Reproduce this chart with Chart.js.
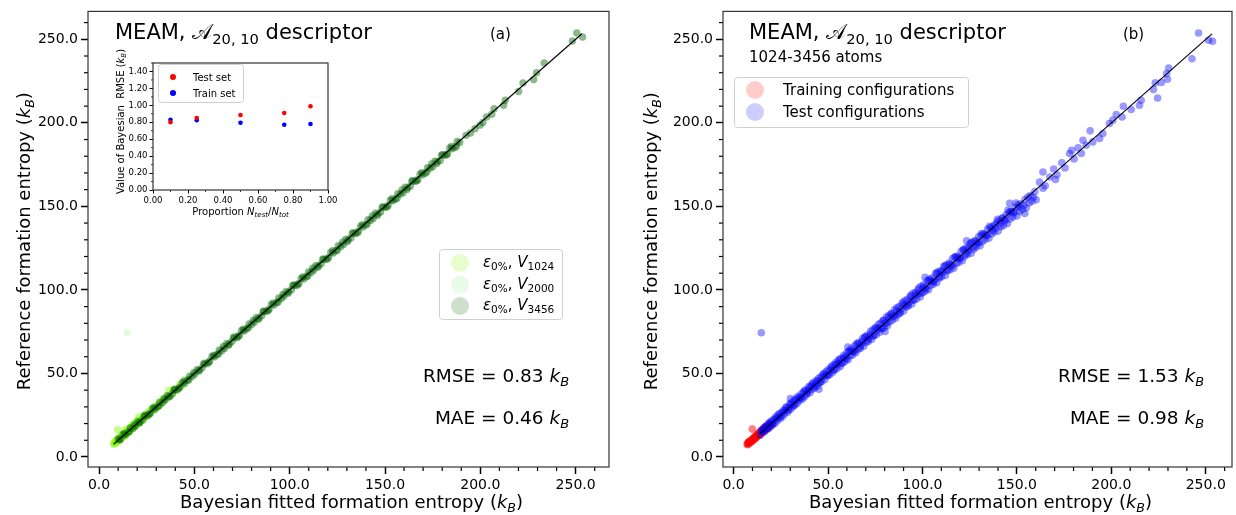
<!DOCTYPE html>
<html>
<head>
<meta charset="utf-8">
<script src="https://cdn.jsdelivr.net/npm/chart.js@4.4.1/dist/chart.umd.min.js"></script>
<style>
  body { margin: 0; background: #fff; }
  canvas { position: absolute; }
</style>
</head>
<body>
<canvas id="panelA" width="618" height="515" style="left:0;top:0"></canvas>
<canvas id="panelB" width="618" height="515" style="left:618px;top:0"></canvas>
<canvas id="inset" width="240" height="180" style="left:100px;top:45px"></canvas>
<script>
// (a) predicted vs reference entropy, split by supercell size
const v1024 = [[7.6,8.0],[8.2,8.9],[8.9,8.3],[9.4,10.4],[9.7,16.4],[10.3,9.8],[10.9,11.9],[11.5,11.2],[12.2,13.4],[12.8,12.1],
  [13.4,14.6],[13.8,16.0],[14.1,13.6],[14.7,15.9],[15.3,14.9],[16.0,17.2],[16.6,16.1],[17.3,18.6],[17.9,17.4],[18.6,19.8],
  [19.2,18.7],[19.9,21.0],[20.8,23.9],[21.2,20.6],[21.9,23.1],[22.6,21.9],[23.3,24.4],[24.0,23.4],[24.8,26.1],[25.5,24.8],
  [26.3,27.4],[27.1,26.5],[27.9,29.2],[28.8,28.0],[29.6,30.9],[30.5,29.8],[31.5,32.7],[32.4,31.7],[33.5,34.8],[34.6,33.9],
  [35.8,37.0],[36.7,39.9],[37.9,37.2],[39.2,40.5],[40.6,39.8],[42.1,43.3],[43.7,42.9],[45.3,46.4],
  [7.9,7.6],[8.6,9.6],[9.2,8.8],[10.0,11.0],[10.6,10.3],[11.2,12.4],[11.9,11.6],[12.5,13.9],[13.1,12.7],[14.4,14.1],
  [15.0,16.4],[15.7,15.4],[16.3,17.7],[17.0,16.7],[17.6,19.1],[18.3,17.9],[18.9,20.3],[19.6,19.2],[20.5,21.8],[21.6,21.2]];
const v2000 = [[12.5,13.2],[14.7,74.4],[15.8,15.1],[18.4,19.3],[21.0,20.3],[23.7,24.6],[26.2,25.5],[28.9,29.8],[31.4,30.8],[34.1,35.0],
  [36.6,36.0],[39.3,40.1],[41.8,41.1],[44.5,45.4],[47.0,46.3],[49.7,50.5],[52.2,51.6],[54.9,55.8],[57.4,56.7],[60.1,60.9],
  [62.6,62.0],[65.3,66.1],[67.8,67.1],[70.5,71.3],[73.0,72.4],[75.7,76.5],[78.2,77.5],[80.9,81.8],[83.4,82.7],[86.1,86.9],
  [88.6,88.0],[91.3,92.1],[93.8,93.1],[96.5,97.3],[99.0,98.4],[101.7,102.5],[104.2,103.5],[106.9,107.7],[109.4,108.8],[112.1,112.9]];
const v3456 = [[10.1,10.8],[11.3,10.6],[12.6,13.5],[13.8,13.1],[15.2,14.6],[16.4,17.3],[17.7,17.0],[19.0,18.4],[20.2,21.1],[21.5,20.8],
  [22.9,22.2],[24.1,25.0],[25.4,24.7],[26.8,26.1],[28.0,28.9],[29.3,28.6],[30.7,30.0],[31.9,32.8],[33.2,32.4],[34.6,34.1],
  [35.8,36.7],[37.1,36.3],[38.5,37.9],[39.7,40.6],[41.0,40.2],[42.4,41.8],[43.6,44.5],[44.9,44.0],[46.3,45.7],[47.5,48.4],
  [48.8,48.1],[50.2,49.5],[51.4,52.3],[52.7,51.9],[54.1,53.4],[55.3,56.2],[56.6,55.8],[58.0,57.3],[59.2,60.1],[60.5,59.9],
  [61.9,61.2],[63.1,64.0],[64.4,63.6],[65.8,65.0],[67.0,67.9],[68.3,67.5],[69.7,69.1],[70.9,71.8],[72.2,71.3],[73.6,72.9],
  [74.8,75.7],[76.1,75.4],[77.5,76.7],[78.7,79.6],[80.0,79.2],[81.4,80.6],[82.6,83.5],[83.9,83.1],[85.3,84.5],[86.5,87.4],
  [87.8,87.0],[89.2,88.4],[90.4,91.3],[91.7,90.9],[93.1,92.3],[94.3,95.2],[95.6,94.8],[97.0,96.2],[98.2,99.1],[99.5,98.7],
  [100.9,100.1],[102.1,103.0],[103.4,102.6],[104.8,103.9],[106.0,106.9],[107.3,106.5],[108.7,107.8],[109.9,110.8],[111.2,110.4],[112.6,111.7],
  [113.8,114.7],[115.1,114.3],[116.5,115.6],[117.7,118.6],[119.0,118.2],[120.4,119.5],[121.6,122.5],[122.9,122.1],[124.3,123.4],[125.5,126.4],
  [126.8,126.0],[128.2,127.2],[129.4,130.3],[130.7,129.9],[132.1,131.1],[133.3,134.2],[134.6,133.8],[136.0,135.0],[137.2,138.1],[138.5,137.7],
  [139.9,138.9],[141.1,142.0],[142.4,141.6],[143.8,142.8],[145.0,145.9],[146.3,145.5],[147.7,146.6],[148.9,149.8],[150.2,149.4],[151.6,150.5],
  [152.8,153.7],[154.1,153.3],[155.5,154.3],[156.7,157.6],[158.0,157.2],[159.4,158.2],[160.6,161.5],[161.9,161.1],[163.3,162.1],[164.5,165.4],
  [165.8,165.0],[167.2,165.9],[168.4,169.3],[169.7,168.9],[171.1,169.8],[172.3,173.2],[173.6,172.8],[175.0,173.7],[176.2,177.1],[177.5,176.7],
  [178.9,177.5],[180.1,181.0],[181.4,180.6],[182.8,181.4],[184.0,184.9],[185.3,184.5],[186.7,185.3],[187.9,188.8],[189.2,188.3],
  [10.7,10.2],[13.3,13.9],[15.9,15.3],[18.5,19.2],[21.1,20.4],[23.7,24.4],[26.3,25.6],[28.9,29.7],[31.5,30.7],[34.1,34.9],
  [36.7,35.9],[39.3,40.0],[41.9,41.1],[44.5,45.3],[47.1,46.2],[49.7,50.5],[52.3,51.5],[54.9,55.6],[57.5,56.6],[60.1,60.8],
  [62.7,61.8],[65.3,66.1],[67.9,66.9],[70.5,71.3],[73.1,72.1],[75.7,76.5],[78.3,77.3],[80.9,81.7],[83.5,82.4],[86.1,86.9],
  [88.7,87.6],[91.3,92.1],[93.9,92.8],[96.5,97.3],[99.1,98.0],[101.7,102.6],[104.3,103.1],[106.9,107.8],[109.5,108.3],[112.1,113.0],
  [114.7,113.5],[117.3,118.2],[119.9,118.7],[122.5,123.4],[125.1,123.9],[127.7,128.6],[130.3,129.0],[132.9,133.8],[135.5,134.2],[138.1,139.0],
  [140.7,139.4],[143.3,144.2],[145.9,144.6],[148.5,149.4],[151.1,149.7],[153.7,154.6],[156.3,154.9],[158.9,159.8],[161.5,160.1],[164.1,165.0],
  [166.7,165.3],[169.3,170.2],[171.9,170.5],[174.5,175.4],[177.1,175.7],[179.7,180.6],[182.3,180.9],[184.9,185.8],[187.5,186.1],
  [192.5,192.5],[194.8,193.9],[197.2,196.5],[199.8,198.6],[201.3,200.2],[203.3,203.5],[206.0,205.1],[207.2,208.5],[212.2,210.5],[213.1,213.5],
  [220.1,218.8],[222.4,223.9],[228.0,225.9],[229.5,230.0],[233.5,235.8],[248.3,249.0],[250.6,253.8],[253.6,251.4]];
const diagA = [7.6, 253.3];

// (b) training / test split over all sizes
const trainCfg = [[7.2,7.8],[7.6,8.6],[8.0,7.9],[8.3,9.2],[8.7,8.5],[9.0,9.8],[9.4,9.1],[9.7,10.5],[9.9,16.7],[10.1,9.7],
  [10.4,11.2],[10.8,10.4],[11.1,12.0],[11.5,11.0],[11.8,12.7],[12.2,11.8],[12.5,13.4],[12.9,12.5],[13.2,14.1],[13.6,13.0],
  [13.9,14.9],[14.3,13.8],[14.6,15.6],[15.0,14.5],[15.3,16.3],[15.7,15.1],[16.0,17.0],[16.4,15.9],[16.7,17.6],[17.1,16.6],
  [17.4,18.2],[17.8,17.3],[18.2,18.9],[18.6,18.1],[19.0,19.5],[19.5,18.6],[20.2,19.4],
  [7.4,7.3],[7.9,8.4],[8.5,9.0],[9.1,9.4],[9.6,9.8],[10.2,10.6],[10.7,11.0],[11.3,11.6],[11.9,12.2],[12.4,12.9],
  [13.0,13.3],[13.5,14.2],[14.1,14.4],[14.7,15.1],[15.2,15.8],[15.8,16.2],[16.3,16.7],[16.9,17.2],[17.5,17.8],[18.1,18.4],[18.8,19.0]];
const testCfg = [[14.2,13.1],[14.7,74.4],[14.8,16.0],[15.3,14.6],[15.9,17.2],[16.4,15.1],[16.9,18.3],[17.5,16.4],[18.0,19.5],[18.6,17.1],[19.1,20.4],
  [19.7,18.2],[20.2,21.6],[20.8,19.4],[21.3,22.5],[21.9,20.1],[22.4,24.0],[23.0,21.6],[23.5,23.3],[24.1,25.8],[24.6,22.9],
  [25.2,26.4],[25.8,24.1],[26.3,28.0],[26.9,25.6],[27.4,27.9],[28.0,30.1],[28.6,26.7],[29.1,29.4],[29.7,31.8],[30.1,34.9],
  [30.2,28.5],[30.8,32.6],[31.4,30.0],[31.9,33.9],[32.5,31.2],[33.0,34.1],[33.6,32.0],[34.2,36.3],[34.7,33.5],[35.3,35.9],
  [35.9,37.8],[36.4,34.6],[37.0,38.9],[37.6,36.1],[38.1,40.2],[38.7,37.4],[39.3,39.8],[39.8,42.1],[40.4,38.5],[41.0,42.7],
  [41.5,40.3],[42.1,44.6],[42.7,41.2],[43.2,43.9],[43.8,45.8],[44.4,42.6],[45.0,47.1],[45.2,40.6],[45.5,44.4],[46.1,48.0],
  [46.7,45.2],[47.2,47.9],[47.8,50.1],[48.4,46.3],[49.0,51.2],[49.5,48.6],[50.1,52.4],[50.7,49.0],[51.3,51.8],[51.9,54.2],
  [52.4,50.5],[53.0,55.3],[53.6,52.1],[54.2,56.6],[54.8,53.0],[55.3,55.7],[55.9,58.4],[56.5,54.2],[57.1,59.1],[57.7,56.3],
  [58.3,60.8],[58.8,57.0],[59.4,59.9],[60.0,62.5],[60.5,65.8],[60.6,58.2],[61.2,63.4],[61.8,60.6],[62.4,64.9],[63.0,61.1],
  [63.5,63.8],[64.1,66.5],[64.7,62.4],[65.3,67.9],[65.9,64.5],[66.5,68.6],[67.1,65.0],[67.7,67.6],[68.3,70.9],[68.9,66.3],
  [69.5,71.8],[70.1,68.5],[70.7,72.9],[71.3,69.1],[71.9,71.6],[72.5,75.2],[73.1,70.4],[73.7,76.1],[74.3,72.6],[74.9,77.0],
  [75.5,73.2],[76.1,75.9],[76.7,79.4],[77.3,74.6],[77.9,80.2],[78.5,76.9],[79.1,81.6],[79.7,77.3],[80.2,75.1],[80.3,80.1],
  [80.9,83.8],[81.5,78.5],[82.1,84.6],[82.7,81.0],[83.3,85.7],[84.0,81.9],[84.6,84.5],[85.2,88.1],[85.8,83.0],[86.4,89.3],
  [87.0,85.2],[87.6,90.0],[88.2,86.1],[88.9,88.9],[89.5,92.6],[90.1,87.4],[90.7,93.5],[91.3,89.7],[91.9,94.4],[92.6,90.3],
  [93.2,93.1],[93.8,96.8],[94.4,91.6],[95.0,97.9],[95.6,93.9],[96.3,98.6],[96.9,94.5],[97.5,97.4],[98.1,101.2],[98.8,95.8],
  [99.4,102.1],[100.0,98.3],[100.6,103.0],[101.3,99.0],[101.4,107.5],[101.9,101.8],[102.5,105.5],[103.2,100.1],[103.8,106.4],[104.4,102.6],
  [105.1,107.3],[105.7,103.4],[106.3,106.1],[107.0,109.9],[107.6,104.3],[108.2,110.8],[108.9,107.0],[109.5,111.5],[110.1,107.8],[110.8,110.4],
  [111.4,114.3],[112.1,108.6],[112.7,115.1],[113.4,111.4],[114.0,116.0],[114.6,112.1],[115.3,114.9],[115.9,118.7],[116.6,113.0],[117.2,119.6],
  [117.9,115.8],[118.5,120.2],[119.2,116.4],[119.8,119.3],[120.5,123.1],[121.1,117.5],[121.8,124.0],[122.4,120.1],[123.1,125.3],[123.4,129.4],
  [123.8,121.2],[124.4,123.6],[125.1,127.5],[125.8,122.0],[126.4,128.6],[127.1,124.4],[127.8,129.5],[128.4,125.6],[129.1,128.0],[129.8,131.9],
  [130.5,126.4],[131.1,132.7],[131.8,129.0],[132.5,133.8],[133.2,130.1],[133.9,132.5],[134.5,136.3],[135.2,130.9],[135.9,137.2],[136.6,133.5],
  [137.3,138.0],[138.0,134.6],[138.7,136.9],[139.4,140.6],[140.1,135.2],[140.8,141.5],[141.5,137.8],[142.2,142.8],[142.9,138.5],[143.6,141.2],
  [144.3,145.0],[145.0,139.7],[145.7,146.3],[146.2,151.9],[146.4,142.4],[147.1,147.1],[147.8,143.6],[148.5,146.0],[149.2,149.5],[150.0,144.3],
  [150.7,150.9],[151.4,147.0],[152.1,151.6],[152.9,148.2],[153.6,150.5],[154.2,145.7],[154.3,154.1],[155.0,149.1],[155.8,155.6],[156.5,152.0],
  [157.2,156.5],[158.0,153.1],[158.7,155.4],[159.5,158.8],[160.2,153.9],[162.0,164.5],[163.8,160.9],[163.8,170.6],[165.0,162.3],[167.4,167.6],
  [169.5,172.4],[170.4,166.1],[171.2,168.9],[173.8,176.1],[175.5,173.0],[177.9,181.6],[179.0,183.5],[180.3,178.4],[182.4,185.1],[184.1,181.7],
  [185.0,189.6],[186.7,186.6],[188.8,195.2],[190.2,188.6],[193.8,190.6],[195.5,193.6],[199.0,199.6],[200.8,201.6],[202.6,205.0],[205.7,203.5],
  [206.4,209.9],[210.5,208.0],[214.9,210.5],[215.8,213.5],[222.3,219.9],[223.3,223.9],[224.5,214.9],[226.5,224.1],[229.3,229.5],[229.7,226.1],
  [230.4,232.8],[242.7,238.4],[246.2,253.8],[251.5,249.4],[253.6,248.8],
  [15.1,15.9],[16.5,17.8],[17.9,17.0],[19.3,20.9],[20.7,20.0],[22.1,22.9],[23.5,25.1],[24.9,24.2],[26.3,26.9],[27.7,29.4],
  [29.1,28.0],[30.5,31.3],[31.9,30.8],[33.3,35.2],[34.7,34.9],[36.1,35.4],[37.5,39.4],[38.9,38.1],[40.3,41.4],[41.7,43.6],
  [43.1,42.0],[44.5,45.6],[45.9,44.7],[47.3,49.4],[48.7,48.9],[50.1,49.2],[51.5,53.6],[52.9,52.0],[54.3,55.4],[55.7,57.8],
  [57.1,56.0],[58.5,59.5],[59.9,58.6],[61.3,63.5],[62.7,63.0],[64.1,63.1],[65.5,67.7],[66.9,66.0],[68.3,69.3],[69.7,71.9],
  [71.1,70.1],[72.5,73.4],[73.9,72.6],[75.3,77.6],[76.7,77.1],[78.1,77.0],[79.5,81.8],[80.9,80.0],[82.3,83.2],[83.7,85.9],
  [85.1,84.2],[86.5,87.3],[87.9,86.5],[89.3,91.6],[90.7,91.0],[92.1,91.0],[93.5,95.9],[94.9,93.9],[96.3,97.1],[97.7,100.0],
  [99.1,98.0],[100.5,101.3],[101.9,100.4],[103.3,105.7],[104.7,105.0],[106.1,104.9],[107.5,109.9],[108.9,107.8],[110.3,111.1],[111.7,114.1],
  [113.1,112.0],[114.5,115.2],[115.9,114.3],[117.3,119.8],[118.7,119.0],[120.1,118.8],[121.5,124.0],[122.9,121.7],[124.3,125.0],[125.7,128.2],
  [127.1,125.9],[128.5,129.2],[129.9,128.2],[131.3,133.8],[132.7,133.0],[134.1,132.7],[135.5,138.0],[136.9,135.6],[138.3,139.0],[139.7,142.2],
  [141.1,139.7],[142.5,143.2],[143.9,142.1],[145.3,147.8],[146.7,146.9],[148.1,146.5],[149.5,152.0],[150.9,149.4]];
const diagB = [13.8, 253.3];

const rmse = ['0.83', '1.53'];
const mae = ['0.46', '0.98'];

// inset: RMSE against test fraction
const proportions = [0.1, 0.25, 0.5, 0.75, 0.9];
const rmseTest = [0.80, 0.85, 0.885, 0.91, 0.99];
const rmseTrain = [0.83, 0.825, 0.795, 0.77, 0.78];

const FONT = '"DejaVu Sans", sans-serif';
Chart.defaults.font.family = FONT;
Chart.defaults.color = '#000';

const toPts = arr => arr.map(([x, y]) => ({ x, y }));
const diag = arr => arr.map(v => ({ x: v, y: v }));

function fontOf(style, size) {
  const s = style.includes('s') ? size * 0.7 : size;
  return (style.includes('i') ? 'italic ' : '') + s + 'px ' + FONT;
}

// text made of runs: [text, style] with style 'i' italic, 's' subscript
function drawRich(ctx, parts, x, y, size, align) {
  let w = 0;
  parts.forEach(([t, st = '']) => { ctx.font = fontOf(st, size); w += ctx.measureText(t).width; });
  let cx = align === 'center' ? x - w / 2 : align === 'right' ? x - w : x;
  ctx.textAlign = 'left';
  ctx.textBaseline = 'alphabetic';
  parts.forEach(([t, st = '']) => {
    ctx.font = fontOf(st, size);
    ctx.fillText(t, cx, y + (st.includes('s') ? size * 0.22 : 0));
    cx += ctx.measureText(t).width;
  });
}

function drawRotated(ctx, parts, x, y, size) {
  ctx.save();
  ctx.translate(x, y);
  ctx.rotate(-Math.PI / 2);
  drawRich(ctx, parts, 0, 0, size, 'center');
  ctx.restore();
}

function frameAndMinor(chart, step, major, len, width) {
  const { ctx, chartArea: a, scales } = chart;
  ctx.save();
  ctx.strokeStyle = '#000';
  ctx.lineWidth = width;
  ['x', 'y'].forEach(id => {
    const sc = scales[id];
    for (let v = Math.ceil(sc.min / step) * step; v <= sc.max + 1e-9; v += step) {
      if (Math.abs(v / major - Math.round(v / major)) < 1e-6) continue;
      const p = sc.getPixelForValue(v);
      ctx.beginPath();
      if (id === 'x') { ctx.moveTo(p, a.bottom); ctx.lineTo(p, a.bottom + len); }
      else { ctx.moveTo(a.left, p); ctx.lineTo(a.left - len, p); }
      ctx.stroke();
    }
  });
  ctx.strokeStyle = '#333';
  ctx.lineWidth = 1.2;
  ctx.strokeRect(a.left, a.top, a.right - a.left, a.bottom - a.top);
  ctx.restore();
}

function legendBox(ctx, x, y, w, h) {
  ctx.save();
  ctx.fillStyle = 'rgba(255,255,255,0.8)';
  ctx.strokeStyle = '#d0d0d0';
  ctx.lineWidth = 1;
  ctx.beginPath();
  ctx.roundRect(x, y, w, h, 3);
  ctx.fill();
  ctx.stroke();
  ctx.restore();
}

function dot(ctx, x, y, r, color) {
  ctx.fillStyle = color;
  ctx.beginPath();
  ctx.arc(x, y, r, 0, Math.PI * 2);
  ctx.fill();
}

function mainScales(xMin, xMax, yAxisWidth) {
  const grid = { drawOnChartArea: false, drawTicks: true, tickLength: 7, tickWidth: 1.5, tickColor: '#000' };
  const ticks = { stepSize: 50, includeBounds: false, autoSkip: false, maxRotation: 0, padding: 3,
    font: { size: 14 }, callback: v => v.toFixed(1) };
  return {
    x: { type: 'linear', min: xMin, max: xMax, grid, border: { display: false }, ticks,
      afterFit: s => { s.height = 48; } },
    y: { type: 'linear', min: -6, max: 266.7, grid, border: { display: false }, ticks,
      afterFit: s => { s.width = yAxisWidth; } }
  };
}

const kB = [['k', 'i'], ['B', 'is']];
const titleParts = [['MEAM, '], ['𝒜'], ['20, 10', 's'], [' descriptor']];

function statsText(ctx, a, i) {
  ctx.fillStyle = '#000';
  drawRich(ctx, [['RMSE = ' + rmse[i] + ' '], ...kB], a.left + 408, 382, 18.5, 'center');
  drawRich(ctx, [['MAE = ' + mae[i] + ' '], ...kB], a.left + 414, 424, 18.5, 'center');
}

function axisTitles(ctx, a, yTitleX) {
  ctx.fillStyle = '#000';
  drawRich(ctx, [['Bayesian fitted formation entropy ('], ...kB, [')']], (a.left + a.right) / 2 + 3, 508, 18, 'center');
  drawRotated(ctx, [['Reference formation entropy ('], ...kB, [')']], yTitleX, (a.top + a.bottom) / 2 + 2, 18);
}

const baseOpts = {
  responsive: false,
  animation: false,
  devicePixelRatio: 1,
  plugins: { legend: { display: false }, tooltip: { enabled: false } }
};

new Chart('panelA', {
  type: 'scatter',
  data: {
    datasets: [
      { type: 'line', data: diag(diagA), borderColor: '#000', borderWidth: 1.1, pointRadius: 0 },
      { data: toPts(v3456), backgroundColor: 'rgba(0,100,0,0.45)', pointRadius: 3.7, borderWidth: 0 },
      { data: toPts(v2000), backgroundColor: 'rgba(144,238,144,0.25)', pointRadius: 3.7, borderWidth: 0 },
      { data: toPts(v1024), backgroundColor: 'rgba(124,252,0,0.45)', pointRadius: 3.7, borderWidth: 0 }
    ]
  },
  options: {
    ...baseOpts,
    layout: { padding: { top: 11, right: 9, left: 0, bottom: 0 } },
    scales: mainScales(-5.8, 267.5, 88)
  },
  plugins: [{
    id: 'decorA',
    afterDraw(chart) {
      const { ctx, chartArea: a } = chart;
      frameAndMinor(chart, 10, 50, 4, 1.2);
      ctx.fillStyle = '#000';
      drawRich(ctx, titleParts, a.left + 27, 39, 21, 'left');
      ctx.font = '15px ' + FONT;
      ctx.fillText('(a)', a.left + 402, 39);
      // size legend
      legendBox(ctx, 439.5, 249.5, 123, 70);
      const rows = [['rgba(124,252,0,0.2)', '1024'], ['rgba(144,238,144,0.2)', '2000'], ['rgba(0,100,0,0.2)', '3456']];
      rows.forEach(([c, n], i) => {
        const cy = 263 + i * 21.5;
        dot(ctx, 460, cy, 9, c);
        ctx.fillStyle = '#000';
        drawRich(ctx, [['ε', 'i'], ['0%', 's'], [', '], ['V', 'i'], [n, 's']], 483, cy + 4, 15, 'left');
      });
      statsText(ctx, a, 0);
      axisTitles(ctx, a, 30);
    }
  }]
});

new Chart('panelB', {
  type: 'scatter',
  data: {
    datasets: [
      { type: 'line', data: diag(diagB), borderColor: '#000', borderWidth: 1.1, pointRadius: 0 },
      { data: toPts(testCfg), backgroundColor: 'rgba(0,0,255,0.4)', pointRadius: 3.8, borderWidth: 0 },
      { data: toPts(trainCfg), backgroundColor: 'rgba(255,0,0,0.5)', pointRadius: 3.8, borderWidth: 0 }
    ]
  },
  options: {
    ...baseOpts,
    layout: { padding: { top: 11, right: 4, left: 0, bottom: 0 } },
    scales: mainScales(-5.6, 263.9, 105)
  },
  plugins: [{
    id: 'decorB',
    afterDraw(chart) {
      const { ctx, chartArea: a } = chart;
      frameAndMinor(chart, 10, 50, 4, 1.2);
      ctx.fillStyle = '#000';
      drawRich(ctx, titleParts, a.left + 26, 39, 21, 'left');
      ctx.font = '15px ' + FONT;
      ctx.fillText('1024-3456 atoms', a.left + 26, 62);
      ctx.fillText('(b)', a.left + 400, 39);
      legendBox(ctx, 734.5 - 618, 77.5, 234, 50);
      dot(ctx, 755 - 618, 90, 9, 'rgba(255,0,0,0.2)');
      dot(ctx, 755 - 618, 112, 9, 'rgba(0,0,255,0.2)');
      ctx.fillStyle = '#000';
      ctx.font = '15px ' + FONT;
      ctx.fillText('Training configurations', 783 - 618, 95);
      ctx.fillText('Test configurations', 783 - 618, 117);
      statsText(ctx, a, 1);
      axisTitles(ctx, a, 39);
    }
  }]
});

new Chart('inset', {
  type: 'scatter',
  data: {
    datasets: [
      { data: proportions.map((p, i) => ({ x: p, y: rmseTest[i] })), backgroundColor: '#ff0000', pointRadius: 2.3, borderWidth: 0 },
      { data: proportions.map((p, i) => ({ x: p, y: rmseTrain[i] })), backgroundColor: '#0000ff', pointRadius: 2.3, borderWidth: 0 }
    ]
  },
  options: {
    ...baseOpts,
    layout: { padding: { top: 18, right: 12, left: 0, bottom: 0 } },
    scales: {
      x: { type: 'linear', min: 0, max: 1,
        grid: { drawOnChartArea: false, tickLength: 3.5, tickWidth: 1, tickColor: '#000' }, border: { display: false },
        ticks: { stepSize: 0.2, autoSkip: false, maxRotation: 0, padding: 2, font: { size: 8.5 }, callback: v => v.toFixed(2) },
        afterFit: s => { s.height = 35; } },
      y: { type: 'linear', min: 0, max: 1.5,
        grid: { drawOnChartArea: false, tickLength: 3.5, tickWidth: 1, tickColor: '#000' }, border: { display: false },
        ticks: { stepSize: 0.2, includeBounds: false, autoSkip: false, padding: 2, font: { size: 8.5 }, callback: v => v.toFixed(2) },
        afterFit: s => { s.width = 53; } }
    }
  },
  plugins: [{
    id: 'insetBg',
    beforeDraw(chart) {
      const { ctx, chartArea: a } = chart;
      ctx.fillStyle = '#fff';
      ctx.fillRect(a.left, a.top, a.right - a.left, a.bottom - a.top);
    },
    afterDraw(chart) {
      const { ctx, chartArea: a } = chart;
      frameAndMinor(chart, 0.1, 0.2, 2, 0.8);
      legendBox(ctx, 58.5, 19.5, 85, 38);
      dot(ctx, 73, 32, 3, '#ff0000');
      dot(ctx, 73, 48, 3, '#0000ff');
      ctx.fillStyle = '#000';
      ctx.font = '10px ' + FONT;
      ctx.fillText('Test set', 93, 35.5);
      ctx.fillText('Train set', 93, 51.5);
      drawRich(ctx, [['Proportion '], ['N', 'i'], ['test', 'is'], ['/'], ['N', 'i'], ['tot', 'is']], (a.left + a.right) / 2, 170, 10, 'center');
      drawRotated(ctx, [['Value of Bayesian  RMSE ('], ['k', 'i'], ['B', 'is'], [')']], 24, (a.top + a.bottom) / 2 - 5, 10);
    }
  }]
});
</script>
</body>
</html>
